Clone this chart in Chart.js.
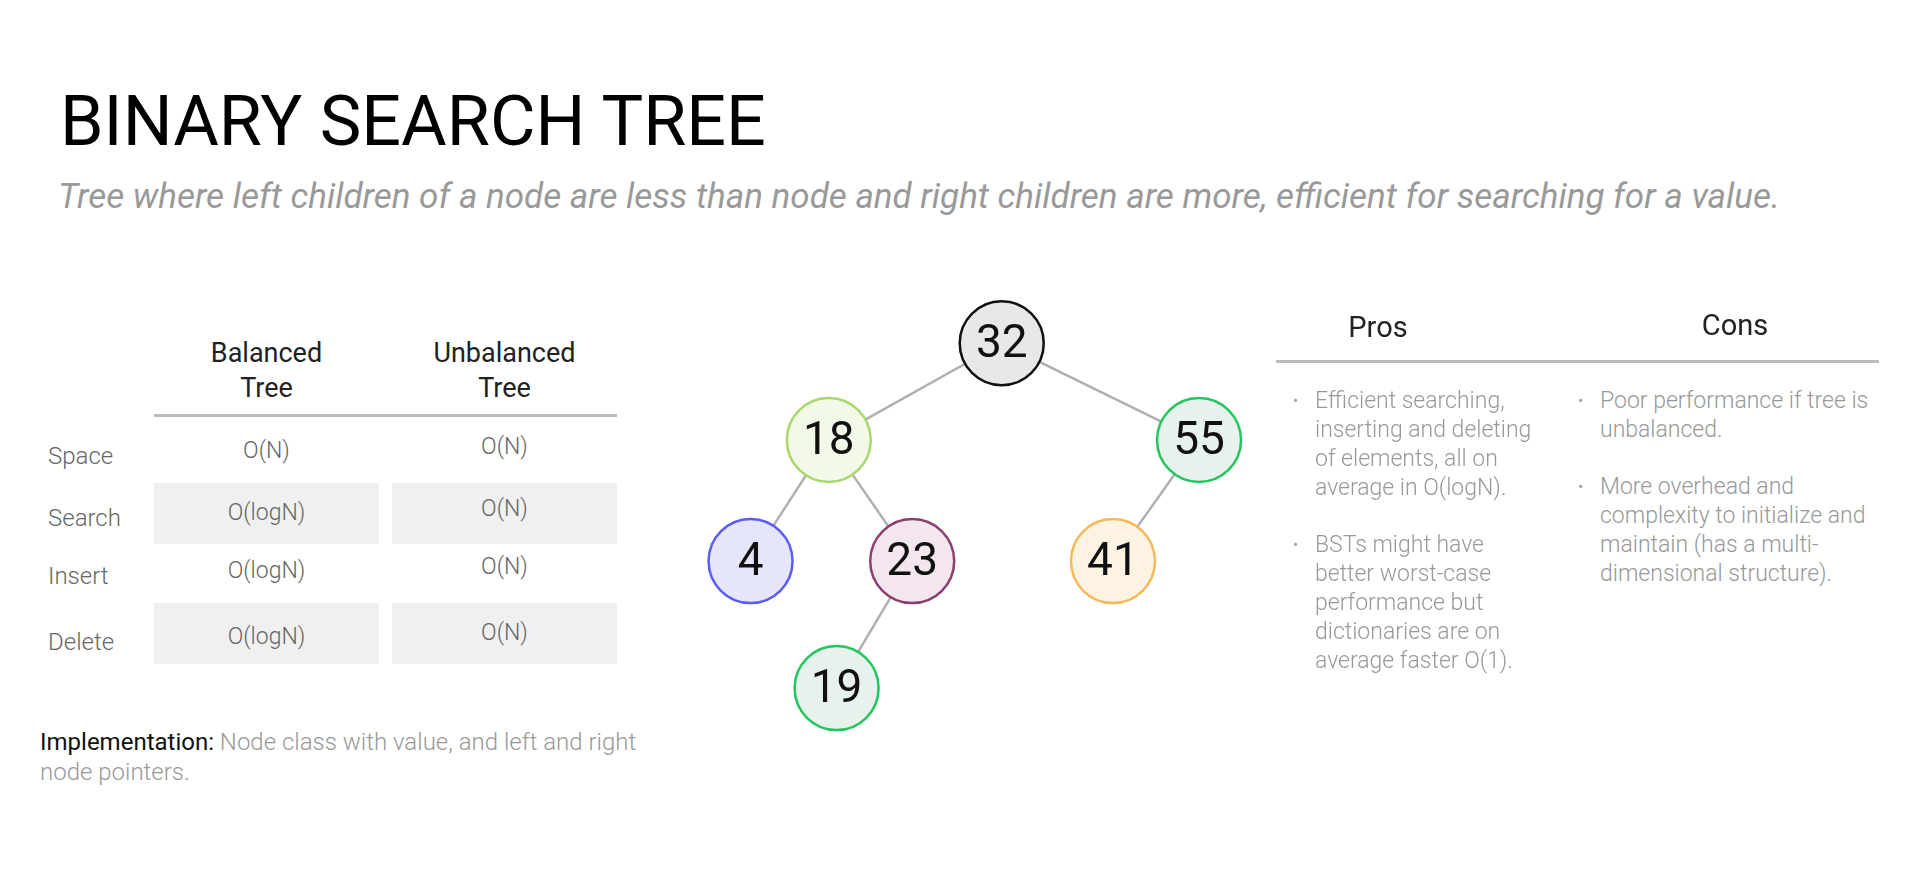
<!DOCTYPE html>
<html>
<head>
<meta charset="utf-8">
<script src="https://cdn.jsdelivr.net/npm/chart.js@4"></script>
<style>
  body { margin: 0; width: 1910px; height: 875px; background: #fff; font-family: Roboto, sans-serif; position: relative; overflow: hidden; }
  .abs { position: absolute; }
  #title { left: 60px; top: 80px; font-size: 70px; color: #000; }
  #sub { left: 58px; top: 176px; font-size: 35px; font-style: italic; color: #999; white-space: nowrap; }
  .hd { font-size: 27px; color: #222; text-align: center; line-height: 35px; }
  .cell { font-size: 23px; color: #666; text-align: center; font-weight: 300; }
  .lbl { font-size: 24px; color: #666; font-weight: 300; }
  .box { background: #f0f0f0; }
  .list { font-size: 23px; color: #999; line-height: 29px; font-weight: 300; }
  .list p { margin: 0 0 28px 0; position: relative; }
  .list p:before { content: "•"; position: absolute; left: -22px; font-size: 16px; }
  #chartWrap { left: 640px; top: 250px; width: 680px; height: 560px; }
</style>
</head>
<body>
<div class="abs" id="title">BINARY SEARCH TREE</div>
<div class="abs" id="sub">Tree where left children of a node are less than node and right children are more, efficient for searching for a value.</div>

<div class="abs hd" style="left:154px;top:336px;width:225px">Balanced<br>Tree</div>
<div class="abs hd" style="left:392px;top:336px;width:225px">Unbalanced<br>Tree</div>
<div class="abs" style="left:154px;top:414px;width:463px;height:3px;background:#bbb"></div>
<div class="abs box" style="left:154px;top:483px;width:225px;height:61px"></div>
<div class="abs box" style="left:392px;top:483px;width:225px;height:61px"></div>
<div class="abs box" style="left:154px;top:603px;width:225px;height:61px"></div>
<div class="abs box" style="left:392px;top:603px;width:225px;height:61px"></div>
<div id="rows"></div>

<div class="abs" style="left:40px;top:727px;width:640px;font-size:24px;line-height:30px;color:#999;font-weight:300"><span style="color:#111;font-weight:400">Implementation:</span> Node class with value, and left and right node pointers.</div>

<div class="abs" id="chartWrap"><canvas id="tree" width="680" height="560"></canvas></div>

<div class="abs hd" style="left:1278px;top:310px;width:200px;font-size:29px">Pros</div>
<div class="abs hd" style="left:1635px;top:308px;width:200px;font-size:29px">Cons</div>
<div class="abs" style="left:1276px;top:360px;width:603px;height:3px;background:#bbb"></div>
<div class="abs list" style="left:1315px;top:386px;width:218px">
  <p>Efficient searching, inserting and deleting of elements, all on average in O(logN).</p>
  <p>BSTs might have better worst-case performance but dictionaries are on average faster O(1).</p>
</div>
<div class="abs list" style="left:1600px;top:386px;width:272px">
  <p>Poor performance if tree is unbalanced.</p>
  <p>More overhead and complexity to initialize and maintain (has a multi-dimensional structure).</p>
</div>

<script>
// table data
var rowLabels = ['Space', 'Search', 'Insert', 'Delete'];
var balanced = ['O(N)', 'O(logN)', 'O(logN)', 'O(logN)'];
var unbalanced = ['O(N)', 'O(N)', 'O(N)', 'O(N)'];
var rowTops = [440, 502, 560, 626];

// tree data
var nodeValues = [32, 18, 55, 4, 23, 41, 19];
var nodeX = [365, 166, 592, 76, 262, 493, 175];
var nodeY = [58, 173, 173, 317, 317, 317, 468];
var parentIdx = [-1, 0, 0, 1, 1, 2, 4];
var borderColors = ['#111111', '#a8d86a', '#22c55e', '#5b5bf5', '#8b3f6e', '#f5b85a', '#22c55e'];
var fillColors = ['#e8e8e8', '#f2f9e8', '#e8f2ec', '#e6e6fb', '#f3e6ee', '#fdf3e3', '#e8f2ec'];

var rows = document.getElementById('rows');
rowLabels.forEach(function (lab, i) {
  var t = rowTops[i];
  rows.insertAdjacentHTML('beforeend',
    '<div class="abs lbl" style="left:48px;top:' + (t + 2) + 'px">' + lab + '</div>' +
    '<div class="abs cell" style="left:154px;top:' + (t - 3) + 'px;width:225px">' + balanced[i] + '</div>' +
    '<div class="abs cell" style="left:392px;top:' + (t - 7) + 'px;width:225px">' + unbalanced[i] + '</div>');
});

var R = 42;
var datasets = [];
nodeValues.forEach(function (v, i) {
  var p = parentIdx[i];
  if (p < 0) return;
  var dx = nodeX[i] - nodeX[p], dy = nodeY[i] - nodeY[p];
  var len = Math.sqrt(dx * dx + dy * dy);
  var ux = dx / len, uy = dy / len;
  var g = R + 6;
  datasets.push({
    type: 'line',
    data: [{ x: nodeX[p] + ux * g, y: nodeY[p] + uy * g }, { x: nodeX[i] - ux * g, y: nodeY[i] - uy * g }],
    borderColor: '#b0b0b0', borderWidth: 2.5, pointRadius: 0, order: 2
  });
});
datasets.push({
  type: 'scatter',
  data: nodeValues.map(function (v, i) { return { x: nodeX[i], y: nodeY[i] }; }),
  pointRadius: R, pointHoverRadius: R,
  backgroundColor: fillColors, borderColor: borderColors, borderWidth: 2.5, order: 1
});

var labelPlugin = {
  id: 'nodeLabels',
  afterDatasetsDraw: function (chart) {
    var ctx = chart.ctx;
    var meta = chart.getDatasetMeta(chart.data.datasets.length - 1);
    ctx.save();
    ctx.font = '46px Roboto';
    ctx.fillStyle = '#111';
    ctx.textAlign = 'center';
    ctx.textBaseline = 'middle';
    meta.data.forEach(function (pt, i) {
      ctx.fillText(String(nodeValues[i]), pt.x, pt.y + 2);
    });
    ctx.restore();
  }
};

new Chart(document.getElementById('tree'), {
  type: 'scatter',
  data: { datasets: datasets },
  options: {
    responsive: false,
    animation: false,
    events: [],
    layout: { padding: 0 },
    plugins: { legend: { display: false }, tooltip: { enabled: false } },
    scales: {
      x: { type: 'linear', min: 0, max: 680, display: false },
      y: { type: 'linear', min: 0, max: 560, reverse: true, display: false }
    }
  },
  plugins: [labelPlugin]
});
</script>
</body>
</html>
